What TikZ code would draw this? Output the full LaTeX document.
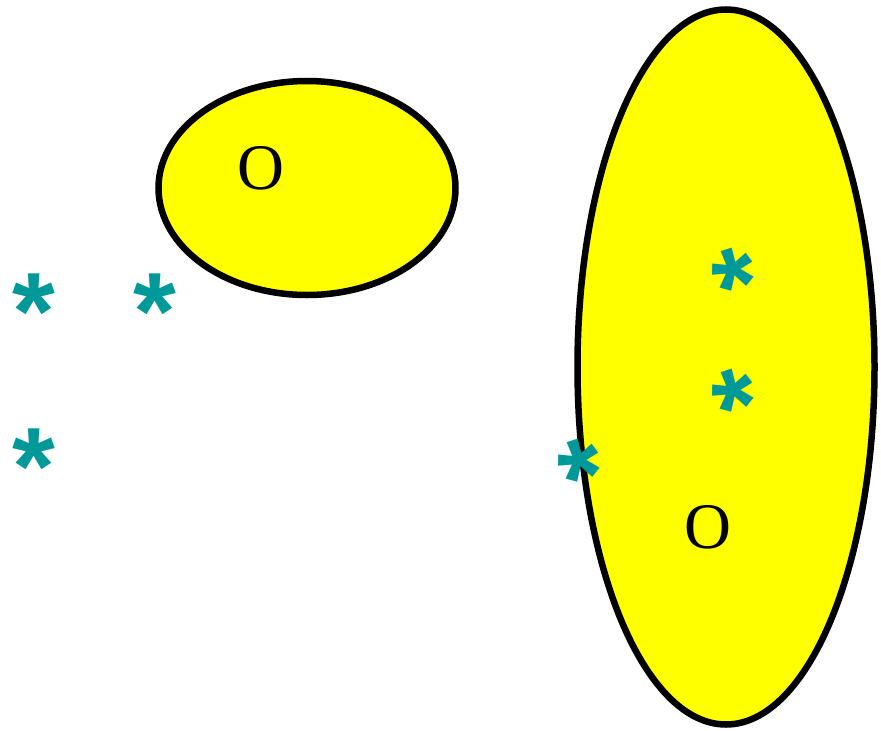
\documentclass[tikz,border=0pt]{standalone}
\usepackage{fontspec}
\setmainfont{Liberation Serif}
\newfontfamily\starfont{Liberation Sans}[BoldFont={* Bold}]
\usetikzlibrary{shapes.geometric}
\definecolor{startea}{RGB}{0,153,153}
\definecolor{blobyellow}{RGB}{255,255,0}
\tikzset{
  blob/.style={draw=black, line width=6.5pt, fill=blobyellow, ellipse, inner sep=0pt},
  letter/.style={inner sep=0pt, font=\fontsize{65}{65}\selectfont},
  astk/.style={inner sep=0pt, text=startea, font=\starfont\bfseries\fontsize{110}{110}\selectfont},
}
\newcommand{\astkglyph}{\smash{\raisebox{-0.475em}{*}}}
\begin{document}
\begin{tikzpicture}[x=1pt,y=-1pt]
\useasboundingbox (0,0) rectangle (881,731);
\node[blob, minimum width=297pt, minimum height=214pt] (e1) at (307,188) {};
\node[blob, minimum width=297pt, minimum height=715pt] (e2) at (726,367) {};
\node[letter] (o1) at (261,168) {O};
\node[letter] (o2) at (708,527) {O};
\node[astk] (s1) at (34,297) {\astkglyph};
\node[astk] (s2) at (155,297) {\astkglyph};
\node[astk] (s3) at (34,452) {\astkglyph};
\node[astk, rotate=18] (s4) at (734,272) {\astkglyph};
\node[astk, rotate=18] (s5) at (734,393) {\astkglyph};
\node[astk, rotate=18] (s6) at (580,463) {\astkglyph};
\end{tikzpicture}
\end{document}
